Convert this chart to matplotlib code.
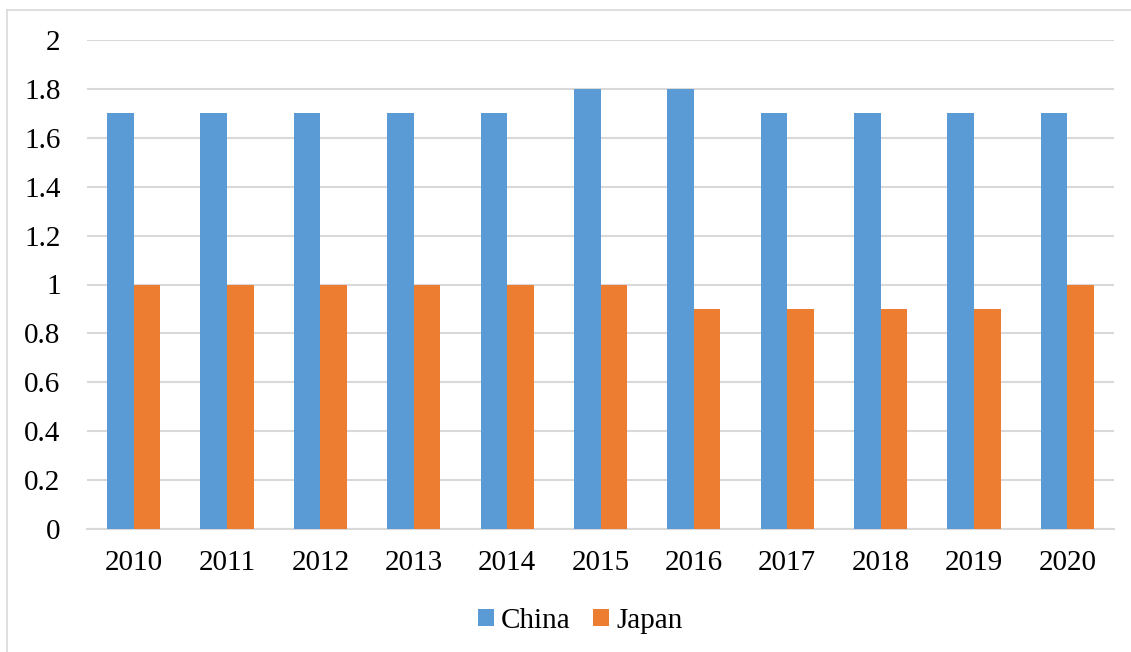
import numpy as np
import matplotlib.pyplot as plt
from matplotlib.lines import Line2D

plt.rcParams["font.family"] = ["Liberation Serif", "DejaVu Serif"]

years = ["2010", "2011", "2012", "2013", "2014", "2015", "2016", "2017", "2018", "2019", "2020"]
china = [1.7, 1.7, 1.7, 1.7, 1.7, 1.8, 1.8, 1.7, 1.7, 1.7, 1.7]
japan = [1.0, 1.0, 1.0, 1.0, 1.0, 1.0, 0.9, 0.9, 0.9, 0.9, 1.0]

W, H = 1131, 652
fig = plt.figure(figsize=(W / 100, H / 100), dpi=100)
ax = fig.add_axes([87 / W, 1 - 529 / H, (1114 - 87) / W, (529 - 40) / H])

x = np.arange(len(years))
bw = 0.285
ax.bar(x - bw / 2, china, bw, color="#5B9BD5", label="China", zorder=3)
ax.bar(x + bw / 2, japan, bw, color="#ED7D31", label="Japan", zorder=3)

ax.set_xlim(-0.5, len(years) - 0.5)
ax.set_ylim(0, 2)
ax.set_yticks(np.arange(0, 2.01, 0.2))
ax.set_yticklabels(["0", "0.2", "0.4", "0.6", "0.8", "1", "1.2", "1.4", "1.6", "1.8", "2"])
ax.set_xticks(x)
ax.set_xticklabels(years)
ax.tick_params(axis="both", length=0, labelsize=21)
ax.tick_params(axis="x", pad=15)
ax.tick_params(axis="y", pad=19)
ax.grid(axis="y", color="#D9D9D9", linewidth=1.5, zorder=0)
for s in ["top", "right", "left"]:
    ax.spines[s].set_visible(False)
ax.spines["bottom"].set_color("#D9D9D9")
ax.spines["bottom"].set_linewidth(1.5)

ax.legend(loc="center", bbox_to_anchor=(580 / W, 1 - 621 / H), bbox_transform=fig.transFigure,
          ncol=2, frameon=False, fontsize=21, handlelength=0.55, handleheight=0.55,
          handletextpad=0.25, columnspacing=0.75)

# chart frame
fig.add_artist(Line2D([7 / W, 1], [1 - 10 / H, 1 - 10 / H], color="#D9D9D9", lw=1.2))
fig.add_artist(Line2D([7 / W, 7 / W], [0, 1 - 10 / H], color="#D9D9D9", lw=1.2))

fig.savefig("out.png", dpi=100)
